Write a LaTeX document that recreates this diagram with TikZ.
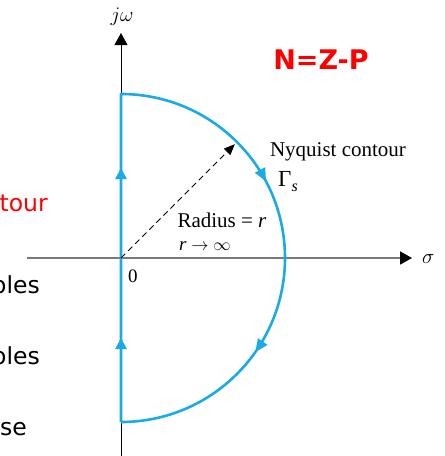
\documentclass[tikz,border=0pt]{standalone}
\usepackage{fontspec}
\setmainfont{Liberation Serif}
\newfontfamily\slidefont{DejaVu Sans}
\usepackage{tikz}
\usetikzlibrary{arrows.meta, positioning, decorations.markings, calc}
\definecolor{contour}{HTML}{1AABE6}
\definecolor{axisgray}{HTML}{7A7A7A}
\definecolor{slidered}{HTML}{FF0000}

\begin{document}
\begin{tikzpicture}[x=1pt, y=1pt,
  axis/.style={line width=0.9pt, black},
  realaxis/.style={line width=1.8pt, axisgray, -{Triangle[length=12pt, width=13pt, color=black]}},
  contourline/.style={draw=contour, line width=2.6pt, line join=round, postaction={decorate},
    decoration={markings,
      mark=at position 84pt with {\arrow[color=contour]{Triangle[length=11pt, width=11pt]}},
      mark=at position 254pt with {\arrow[color=contour]{Triangle[length=11pt, width=11pt]}},
      mark=at position 506pt with {\arrow[color=contour]{Triangle[length=13pt, width=11pt]}},
      mark=at position 686pt with {\arrow[color=contour]{Triangle[length=13pt, width=11pt]}}}},
  radiusline/.style={line width=0.9pt, dash pattern=on 6pt off 4pt, -{Triangle[length=11pt, width=9pt]}},
  lbl/.style={inner sep=0pt, font=\fontsize{21}{24}\selectfont},
  slide/.style={inner sep=0pt, anchor=base east, font=\slidefont\fontsize{23.5}{28}\selectfont}
]
  \useasboundingbox (-121,-198) rectangle (324,258);

  \coordinate (O) at (0,0);
  \coordinate (imlow) at (0,-198);
  \coordinate (imhigh) at (0,225);
  \coordinate (relow) at (-94,0);
  \coordinate (rehigh) at (291,0);
  \coordinate (ctop) at (0,164);
  \coordinate (cbot) at (0,-164);
  \coordinate (rtip) at (45:161);

  % axes
  \draw[axis, -{Triangle[length=12pt, width=13pt]}] (imlow) -- (imhigh);
  \draw[realaxis] (relow) -- (rehigh);
  \node[lbl, anchor=south] (jw) at (1,232) {$j\omega$};
  \node[lbl, anchor=west] (sigma) at (301,-1) {$\sigma$};
  \node[lbl, font=\fontsize{19}{22}\selectfont] (zero) at (12,-18) {0};

  % contour
  \draw[contourline] (cbot) -- (ctop) arc[start angle=90, end angle=-90, radius=164];
  \draw[radiusline] (O) -- (rtip);

  \node[lbl] (radlbl) at (101,38) {Radius = \textit{r}};
  \node[lbl, font=\fontsize{19}{21}\selectfont] (inflbl) at (84,12) {\textit{r} $\rightarrow \infty$};
  \node[lbl] (nyq) at (217,106) {Nyquist contour};
  \node[lbl, font=\fontsize{23}{26}\selectfont] (gam) at (167,76) {Γ\raisebox{-5pt}{\fontsize{16}{18}\selectfont\textit{s}}};

  \node[font=\slidefont\bfseries\fontsize{27}{30}\selectfont, text=slidered, inner sep=0pt] (nzp) at (200,198) {N=Z-P};

  % cut-off slide text
  \node[slide, text=slidered] (t1) at (-73,47) {tour};
  \node[slide] (t2) at (-81,-35) {oles};
  \node[slide] (t3) at (-81,-106) {oles};
  \node[slide] (t4) at (-94,-177) {se};
\end{tikzpicture}
\end{document}
